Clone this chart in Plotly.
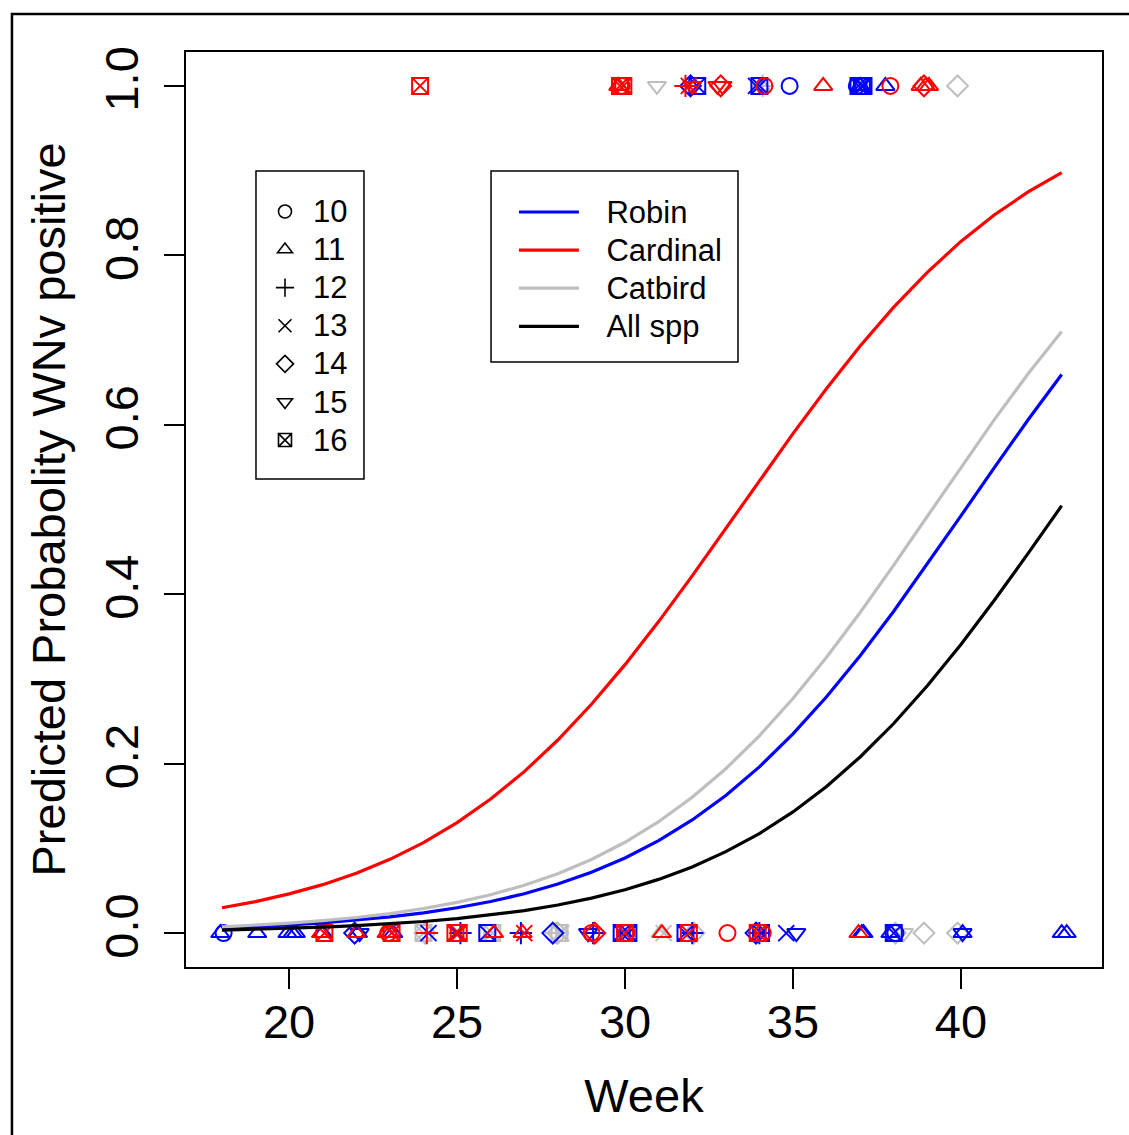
import plotly.graph_objects as go

# Prediction grid (weeks) and fitted probabilities for each model
weeks = list(range(18, 44))
p_robin = [0.0061, 0.0077, 0.0097, 0.0121, 0.0152, 0.0191, 0.0239, 0.0299, 0.0373, 0.0465,
           0.0579, 0.0718, 0.0887, 0.1091, 0.1336, 0.1625, 0.1962, 0.2351, 0.2789, 0.3274,
           0.3799, 0.4354, 0.4925, 0.5498, 0.6059, 0.6593]
p_cardinal = [0.0299, 0.0372, 0.0463, 0.0572, 0.0707, 0.0871, 0.1068, 0.1304, 0.1582, 0.1906,
              0.2279, 0.2701, 0.3169, 0.3677, 0.4217, 0.4775, 0.5339, 0.5895, 0.6429, 0.6930,
              0.7389, 0.7800, 0.8164, 0.8479, 0.8748, 0.8975]
p_catbird = [0.0074, 0.0093, 0.0117, 0.0147, 0.0184, 0.0231, 0.0290, 0.0363, 0.0453, 0.0565,
             0.0702, 0.0869, 0.1072, 0.1315, 0.1603, 0.1940, 0.2329, 0.2769, 0.3256, 0.3785,
             0.4344, 0.4920, 0.5498, 0.6064, 0.6602, 0.7101]
p_all = [0.0036, 0.0045, 0.0056, 0.0070, 0.0088, 0.0110, 0.0137, 0.0171, 0.0214, 0.0266,
         0.0332, 0.0413, 0.0512, 0.0634, 0.0781, 0.0961, 0.1175, 0.1430, 0.1731, 0.2079,
         0.2474, 0.2919, 0.3407, 0.3932, 0.4482, 0.5045]

# Individual birds: jittered week, WNv result (1 = positive), age code
robin_week = [32.15, 31.95, 34.0, 33.9, 34.9, 36.95, 37.05, 37.0, 36.9, 37.1, 37.75,
              17.95, 18.05, 19.05, 19.95, 20.1, 20.2, 21.0, 21.95, 22.05, 22.1, 23.1,
              24.15, 25.0, 25.1, 25.9, 26.9, 27.85, 28.9, 29.05, 29.9, 30.1, 31.8, 32.0,
              34.05, 34.0, 33.9, 34.8, 35.1, 37.05, 37.1, 37.9, 38.0, 38.05, 40.05, 40.05,
              43.0, 43.15]
robin_result = [1, 1, 1, 1, 1, 1, 1, 1, 1, 1, 1,
                0, 0, 0, 0, 0, 0, 0, 0, 0, 0, 0,
                0, 0, 0, 0, 0, 0, 0, 0, 0, 0, 0, 0,
                0, 0, 0, 0, 0, 0, 0, 0, 0, 0, 0, 0,
                0, 0]
robin_age = [16, 14, 16, 13, 10, 16, 16, 11, 10, 16, 11,
             11, 10, 11, 11, 11, 11, 11, 14, 11, 15, 11,
             13, 13, 12, 16, 12, 14, 15, 12, 16, 16, 16, 12,
             16, 12, 14, 13, 15, 11, 11, 11, 16, 10, 11, 15,
             11, 11]

cardinal_week = [23.9, 29.85, 29.8, 29.95, 29.9, 31.8, 31.9, 32.0, 32.75, 32.9, 32.85,
                 34.15, 35.9, 37.9, 38.8, 38.95, 39.05, 38.9,
                 20.95, 21.05, 22.0, 22.9, 23.0, 23.05, 22.95, 24.1, 24.95, 25.05, 26.1,
                 26.95, 27.0, 29.0, 29.1, 30.0, 30.05, 31.1, 31.9, 33.05, 33.95, 34.1, 36.95]
cardinal_result = [1, 1, 1, 1, 1, 1, 1, 1, 1, 1, 1,
                   1, 1, 1, 1, 1, 1, 1,
                   0, 0, 0, 0, 0, 0, 0, 0, 0, 0, 0,
                   0, 0, 0, 0, 0, 0, 0, 0, 0, 0, 0, 0]
cardinal_age = [16, 16, 11, 16, 10, 12, 13, 15, 15, 15, 14,
                10, 11, 10, 11, 11, 11, 14,
                11, 16, 11, 11, 11, 16, 10, 12, 16, 16, 11,
                11, 13, 10, 14, 16, 10, 11, 16, 10, 16, 10, 11]

catbird_week = [30.95, 34.1, 34.05, 39.9,
                24.0, 24.05, 26.05, 27.95, 28.05, 28.1, 28.0, 31.05, 31.15, 32.05,
                38.05, 38.3, 38.9, 39.9]
catbird_result = [1, 1, 1, 1,
                  0, 0, 0, 0, 0, 0, 0, 0, 0, 0,
                  0, 0, 0, 0]
catbird_age = [15, 12, 11, 14,
               16, 14, 16, 12, 16, 13, 14, 11, 13, 14,
               14, 15, 14, 14]

age_codes = [10, 11, 12, 13, 14, 15, 16]
age_symbols = {10: "circle-open", 11: "triangle-up-open", 12: "cross-thin-open",
               13: "x-thin-open", 14: "diamond-open", 15: "triangle-down-open",
               16: "square-x-open"}

BLUE, RED, GRAY, BLACK = "#0000FF", "#FF0000", "#BEBEBE", "#000000"
FONT = "Liberation Sans, Arial, sans-serif"
PAD = "\u00a0\u00a0\u00a0"


def key_label(text):
    # slightly larger glyphs than the key's row spacing font
    return '<span style="font-size:31px">' + text + "</span>"


fig = go.Figure()

# observed birds
for week, res, age, col in [(catbird_week, catbird_result, catbird_age, GRAY),
                            (robin_week, robin_result, robin_age, BLUE),
                            (cardinal_week, cardinal_result, cardinal_age, RED)]:
    fig.add_trace(go.Scatter(
        x=week, y=res, mode="markers", showlegend=False, hoverinfo="skip",
        marker=dict(symbol=[age_symbols[a] for a in age], size=16, color=col,
                    line=dict(color=col, width=2))))

# fitted curves
for name, p, col in [("Robin", p_robin, BLUE), ("Cardinal", p_cardinal, RED),
                     ("Catbird", p_catbird, GRAY), ("All spp", p_all, BLACK)]:
    fig.add_trace(go.Scatter(x=weeks, y=p, mode="lines", name=PAD + key_label(name),
                             line=dict(color=col, width=3.2), legend="legend2"))

# age symbol key
for a in age_codes:
    fig.add_trace(go.Scatter(x=[None], y=[None], mode="markers", name=key_label(str(a)),
                             legend="legend",
                             marker=dict(symbol=age_symbols[a], size=13, color=BLACK,
                                         line=dict(color=BLACK, width=1.6))))

axis_common = dict(showline=True, mirror=True, linecolor=BLACK, linewidth=2,
                   ticks="outside", ticklen=20, tickwidth=1.8, tickcolor=BLACK,
                   showgrid=False, zeroline=False,
                   tickfont=dict(family=FONT, size=47, color=BLACK))

fig.update_layout(
    width=1129, height=1135,
    margin=dict(l=186, r=27, t=52, b=168),
    paper_bgcolor="white", plot_bgcolor="white",
    font=dict(family=FONT, color=BLACK),
    xaxis=dict(range=[16.93, 44.2], tickvals=[20, 25, 30, 35, 40],
               title=dict(text="Week", font=dict(family=FONT, size=47), standoff=32),
               ticklabelstandoff=-7, **axis_common),
    yaxis=dict(range=[-0.04, 1.04], tickvals=[0, 0.2, 0.4, 0.6, 0.8, 1.0],
               ticktext=["0.0", "0.2", "0.4", "0.6", "0.8", "1.0"], tickangle=-90,
               title=dict(text="Predicted Probabolity WNv positive",
                          font=dict(family=FONT, size=47), standoff=15),
               ticklabelstandoff=7, **axis_common),
    legend=dict(x=0.0775, y=0.852, xanchor="left", yanchor="top",
                bgcolor="rgba(0,0,0,0)", borderwidth=0, itemwidth=46,
                font=dict(family=FONT, size=27, color=BLACK)),
    legend2=dict(x=0.358, y=0.8514, xanchor="left", yanchor="top",
                 bgcolor="rgba(0,0,0,0)", borderwidth=0, itemwidth=60,
                 font=dict(family=FONT, size=27, color=BLACK)),
    shapes=[
        # key boxes
        dict(type="rect", xref="paper", yref="paper", x0=0.0764, x1=0.1943,
             y0=0.5333, y1=0.870, line=dict(color=BLACK, width=1.5)),
        dict(type="rect", xref="paper", yref="paper", x0=0.333, x1=0.6026,
             y0=0.6612, y1=0.870, line=dict(color=BLACK, width=1.5)),
        # figure frame
        dict(type="rect", xref="paper", yref="paper", x0=-0.19, x1=1.04,
             y0=-0.19, y1=1.0415, line=dict(color=BLACK, width=2.5)),
    ],
)

fig.write_html("out.html")
